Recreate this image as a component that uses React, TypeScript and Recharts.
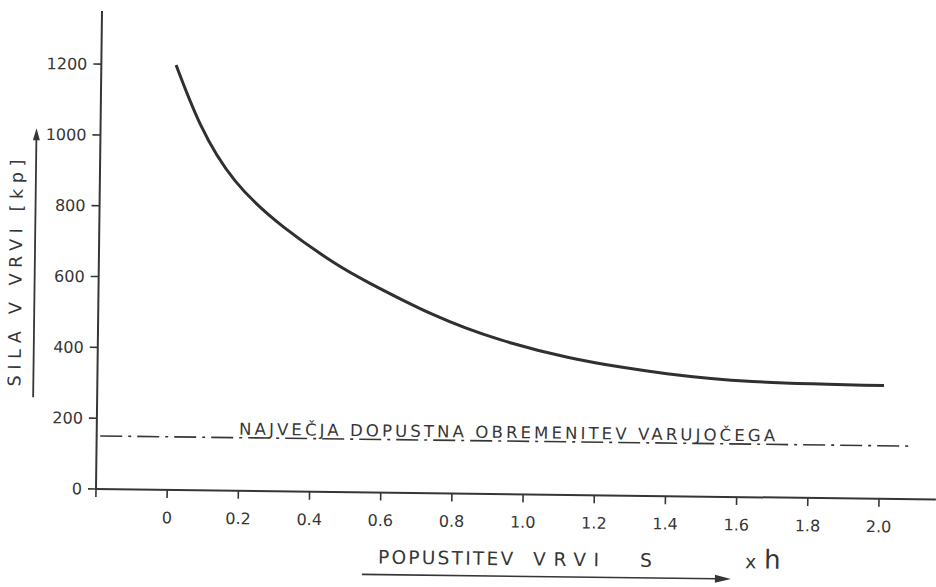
import React from 'react';
import { LineChart, Line, XAxis, YAxis, ReferenceLine, ReferenceDot, Label } from 'recharts';

// Data (slack s in units of h, force in kp)
const slack = [0.01, 0.08, 0.18, 0.32, 0.46, 0.56, 0.74, 0.93, 1.12, 1.27, 1.4, 1.64, 2.01];
const force = [1200, 1034, 875, 745, 648, 592, 505, 436, 389, 363, 346, 327, 320];

const xTicks = [-0.2, 0, 0.2, 0.4, 0.6, 0.8, 1.0, 1.2, 1.4, 1.6, 1.8, 2.0];
const xTickLabels = ['', '0', '0.2', '0.4', '0.6', '0.8', '1.0', '1.2', '1.4', '1.6', '1.8', '2.0'];
const yTicks = [0, 200, 400, 600, 800, 1000, 1200];

const limitForce = 150;
const limitStart = -0.19;
const limitEnd = 2.09;
const limitLabelStart = 0.2;

const xDomain = [-0.2, 2.16];
const yDomain = [0, 1350];

const yTitle = 'SILA V VRVI [kp]';
const xTitleWords = ['POPUSTITEV', 'VRVI', 'S'];
const xUnitWords = ['x', 'h'];
const limitLabel = 'NAJVEČJA DOPUSTNA OBREMENITEV  VARUJOČEGA';

const data = slack.map((s, i) => ({ s, f: force[i] }));

const INK = '#363636';
const FONT = '"DejaVu Sans", sans-serif';

const YTitle = (props: any) => {
  const vb = props.viewBox || { x: 0, y: 11, width: 96, height: 478 };
  const cx = vb.x + 13;
  const cy = vb.y + 263;
  const ax = vb.x + 32;
  const top = vb.y + 118;
  const bottom = vb.y + 387;
  return (
    <g>
      <text
        x={cx}
        y={cy}
        transform={`rotate(-90, ${cx}, ${cy})`}
        textAnchor="middle"
        dominantBaseline="central"
        fontFamily={FONT}
        fontSize={17.5}
        fill={INK}
        textLength={227}
        lengthAdjust="spacing"
      >
        {yTitle}
      </text>
      <line x1={ax} y1={bottom} x2={ax} y2={top + 8} stroke={INK} strokeWidth={1.8} />
      <polygon points={`${ax},${top} ${ax - 3.5},${top + 12} ${ax + 3.5},${top + 12}`} fill={INK} />
    </g>
  );
};

const XTitle = (props: any) => {
  const vb = props.viewBox || { x: 96, y: 489, width: 840, height: 98 };
  const base = vb.y + 71;
  const ay = vb.y + 82;
  const x0 = vb.x;
  return (
    <g fontFamily={FONT} fill={INK}>
      <text x={x0 + 283} y={base} fontSize={18.5} textLength={135} lengthAdjust="spacing">
        {xTitleWords[0]}
      </text>
      <text x={x0 + 438} y={base} fontSize={18.5} textLength={66} lengthAdjust="spacing">
        {xTitleWords[1]}
      </text>
      <text x={x0 + 545} y={base} fontSize={18.5}>
        {xTitleWords[2]}
      </text>
      <text x={x0 + 650} y={base} fontSize={19}>
        {xUnitWords[0]}
      </text>
      <text x={x0 + 669} y={base} fontSize={26}>
        {xUnitWords[1]}
      </text>
      <line x1={x0 + 267} y1={ay} x2={x0 + 622} y2={ay} stroke={INK} strokeWidth={1.6} />
      <polygon points={`${x0 + 636},${ay} ${x0 + 620},${ay - 4} ${x0 + 620},${ay + 4}`} fill={INK} />
    </g>
  );
};

const LimitLabel = (props: any) => {
  const vb = props.viewBox || { x: 0, y: 0 };
  return (
    <text
      x={vb.x}
      y={vb.y - 3}
      fontFamily={FONT}
      fontSize={16.5}
      fill={INK}
      textLength={536}
      lengthAdjust="spacing"
    >
      {limitLabel}
    </text>
  );
};

export default function App() {
  return (
    <div
      style={{
        position: 'absolute',
        left: 0,
        top: 0,
        width: 936,
        height: 587,
        background: '#ffffff',
        transform: 'rotate(0.72deg)',
        transformOrigin: '96px 489px',
      }}
    >
      <LineChart width={936} height={587} data={data} margin={{ top: 11, right: 0, bottom: 0, left: 0 }}>
        <XAxis
          type="number"
          dataKey="s"
          domain={xDomain}
          ticks={xTicks}
          allowDataOverflow
          tickFormatter={(v: number) => {
            const i = xTicks.findIndex((t) => Math.abs(t - v) < 1e-9);
            return i >= 0 ? xTickLabels[i] : '';
          }}
          height={98}
          tickSize={8}
          tickMargin={14}
          axisLine={{ stroke: INK, strokeWidth: 2 }}
          tickLine={{ stroke: INK, strokeWidth: 1.6 }}
          tick={{ fill: INK, fontSize: 16, fontFamily: FONT }}
        >
          <Label content={<XTitle />} />
        </XAxis>
        <YAxis
          type="number"
          domain={yDomain}
          ticks={yTicks}
          allowDataOverflow
          width={96}
          tickSize={8}
          tickMargin={6}
          axisLine={{ stroke: INK, strokeWidth: 2 }}
          tickLine={{ stroke: INK, strokeWidth: 1.6 }}
          tick={{ fill: INK, fontSize: 16, fontFamily: FONT }}
        >
          <Label content={<YTitle />} />
        </YAxis>
        <ReferenceLine
          segment={[
            { x: limitStart, y: limitForce },
            { x: limitEnd, y: limitForce },
          ]}
          stroke={INK}
          strokeWidth={1.6}
          strokeDasharray="22 6 3 6"
          ifOverflow="visible"
        />
        <ReferenceDot
          x={limitLabelStart}
          y={limitForce}
          r={0}
          fill="none"
          stroke="none"
          ifOverflow="visible"
          label={<LimitLabel />}
        />
        <Line
          type="natural"
          dataKey="f"
          stroke="#303030"
          strokeWidth={3}
          dot={false}
          activeDot={false}
          isAnimationActive={false}
        />
      </LineChart>
    </div>
  );
}
